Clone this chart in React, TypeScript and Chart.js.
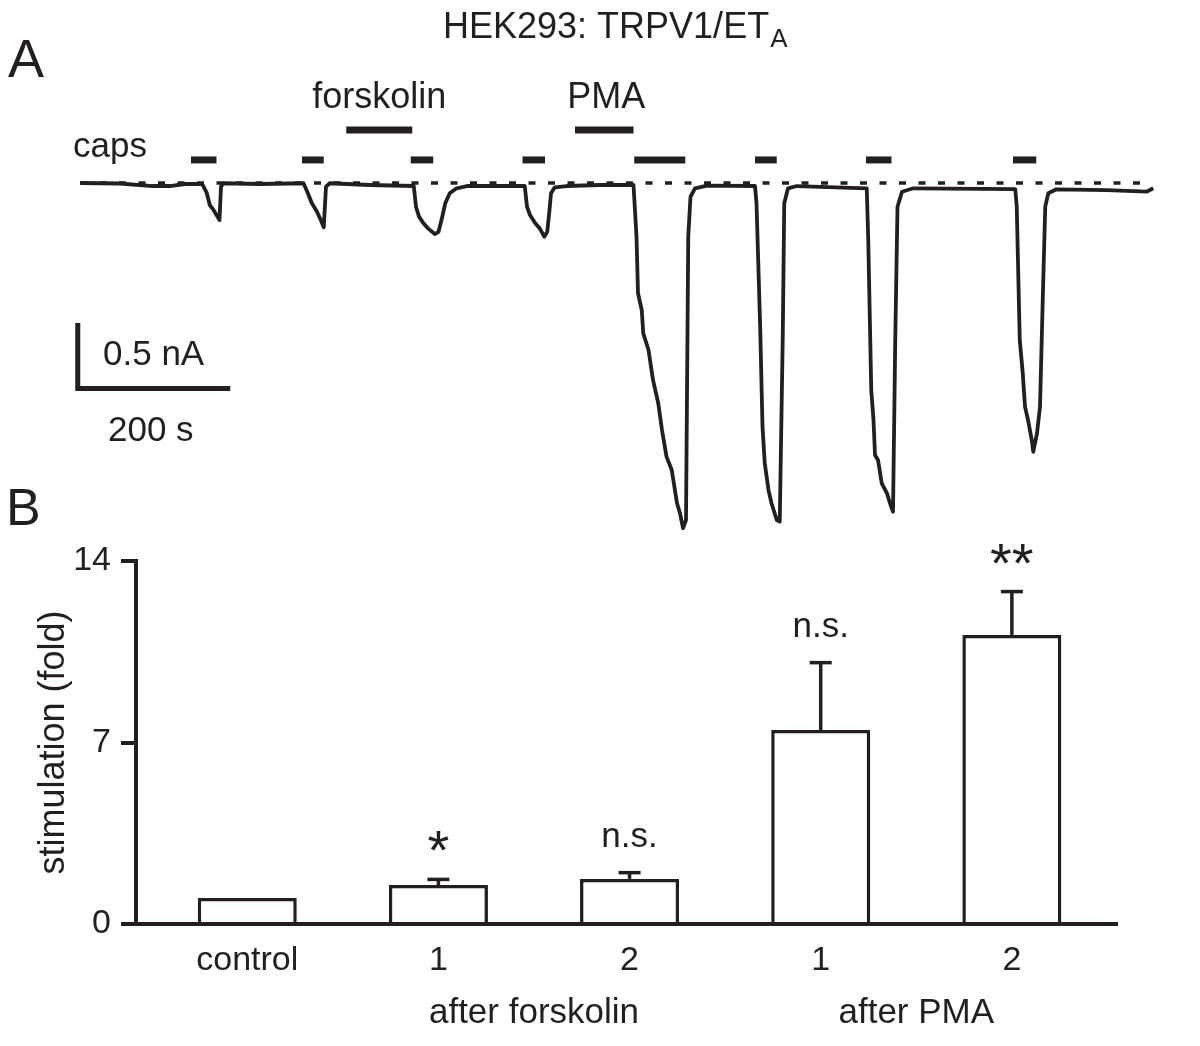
import React, { useEffect, useRef } from 'react';
import { Chart, registerables } from 'chart.js';
Chart.register(...registerables);

const FONT = "'Liberation Sans', Arial, Helvetica, sans-serif";
const INK = '#231f20';

// ---------- Panel A: current trace (time in s, current in nA) ----------
const traceTime = [
  0, 53, 97, 120, 140, 163, 169, 173, 178, 182, 186, 188, 191, 240,
  298, 303, 309, 316, 321, 325, 328, 333, 387,
  445, 448, 452, 458, 464, 473, 478, 482, 487, 493, 502, 516,
  593, 596, 600, 607, 613, 619, 623, 626, 628, 633, 649, 693,
  738, 742, 744, 749, 751, 758, 764, 771, 776, 782, 789, 796, 800, 804, 808, 811, 814, 820, 836,
  900, 902, 907, 910, 913, 918, 922, 929, 933, 937, 939, 944, 956,
  1049, 1051, 1055, 1058, 1060, 1064, 1069, 1076, 1080, 1084, 1087, 1090, 1096, 1111,
  1247, 1249, 1253, 1257, 1260, 1264, 1269, 1271, 1276, 1280, 1284, 1287, 1291, 1302, 1369, 1422, 1431,
];
const traceCurrent = [
  0, -0.004, -0.024, -0.024, -0.008, -0.008, -0.079, -0.175, -0.214, -0.254, -0.294, -0.029, -0.002, -0.008,
  -0.002, -0.069, -0.159, -0.228, -0.294, -0.352, -0.029, -0.002, -0.016,
  -0.024, -0.188, -0.267, -0.32, -0.36, -0.405, -0.387, -0.294, -0.161, -0.082, -0.042, -0.024,
  -0.024, -0.188, -0.254, -0.32, -0.36, -0.426, -0.387, -0.214, -0.082, -0.034, -0.024, -0.016,
  -0.016, -0.426, -0.875, -1.008, -1.193, -1.325, -1.563, -1.748, -1.96, -2.172, -2.278, -2.542, -2.621, -2.74, -2.675, -0.426, -0.109, -0.042, -0.021,
  -0.024, -0.161, -1.167, -1.934, -2.225, -2.437, -2.542, -2.675, -2.688, -1.22, -0.161, -0.042, -0.024,
  -0.042, -0.452, -1.643, -1.881, -2.159, -2.198, -2.383, -2.463, -2.542, -2.609, -1.246, -0.188, -0.069, -0.042,
  -0.048, -0.188, -1.246, -1.51, -1.775, -1.881, -2.04, -2.133, -1.987, -1.775, -0.849, -0.188, -0.082, -0.05, -0.056, -0.069, -0.042,
];
const baselineTime = [0, 1420];
const baselineCurrent = [0, 0];

const capsStart = [148, 296, 441, 590, 739, 900, 1048, 1244];
const capsEnd = [182, 325, 471, 620, 807, 929, 1082, 1275];
const drugNames = ['forskolin', 'PMA'];
const drugStart = [355, 660];
const drugEnd = [443, 738];

const scaleBarTime = 200; // s
const scaleBarCurrent = 0.5; // nA

// ---------- Panel B: bar chart ----------
const categories = ['control', '1', '2', '1', '2'];
const means = [1.0, 1.5, 1.74, 7.48, 11.15];
const errors = [0, 0.22, 0.24, 2.6, 1.67];
const significance = ['', '*', 'n.s.', 'n.s.', '**'];
const groupLabels = ['after forskolin', 'after PMA'];
const groupFrom = [1, 3];
const groupTo = [2, 4];
const yTicks = [0, 7, 14];

// placement constants (styles, not data)
const CAPS_LEVEL = 0.183;
const DRUG_LEVEL = 0.421;
const SCALE_T0 = -3;
const SCALE_I0 = -1.63;

function txt(ctx: CanvasRenderingContext2D, s: string, x: number, y: number, size: number, align: CanvasTextAlign = 'left') {
  ctx.font = `${size}px ${FONT}`;
  ctx.textAlign = align;
  ctx.textBaseline = 'alphabetic';
  ctx.fillStyle = INK;
  ctx.fillText(s, x, y);
}

function seg(ctx: CanvasRenderingContext2D, x0: number, y0: number, x1: number, y1: number) {
  ctx.beginPath();
  ctx.moveTo(x0, y0);
  ctx.lineTo(x1, y1);
  ctx.stroke();
}

const traceDecor = {
  id: 'traceDecor',
  afterDatasetsDraw(chart: any) {
    const { ctx, scales: { x, y } } = chart;
    ctx.save();
    ctx.strokeStyle = INK;
    ctx.lineCap = 'butt';
    ctx.lineWidth = 7;
    const yc = y.getPixelForValue(CAPS_LEVEL);
    capsStart.forEach((s, i) => seg(ctx, x.getPixelForValue(s), yc, x.getPixelForValue(capsEnd[i]), yc));
    const yd = y.getPixelForValue(DRUG_LEVEL);
    drugStart.forEach((s, i) => {
      const a = x.getPixelForValue(s);
      const b = x.getPixelForValue(drugEnd[i]);
      seg(ctx, a, yd, b, yd);
      txt(ctx, drugNames[i], (a + b) / 2 + (i === 1 ? 2 : 0), yd - 22, 36, 'center');
    });
    txt(ctx, 'caps', 73, 157, 35);

    // scale bar
    const cx = x.getPixelForValue(SCALE_T0);
    const cy = y.getPixelForValue(SCALE_I0);
    const tx = x.getPixelForValue(SCALE_T0 + scaleBarTime);
    const ty = y.getPixelForValue(SCALE_I0 + scaleBarCurrent);
    ctx.lineWidth = 5;
    ctx.lineCap = 'square';
    ctx.beginPath();
    ctx.moveTo(cx, ty);
    ctx.lineTo(cx, cy);
    ctx.lineTo(tx, cy);
    ctx.stroke();
    txt(ctx, '0.5 nA', 103, 365, 35);
    txt(ctx, '200 s', 108, 441, 35);

    // panel label and title
    txt(ctx, 'A', 8, 77, 54);
    const main = 'HEK293: TRPV1/ET';
    txt(ctx, main, 443, 38, 36);
    ctx.font = `36px ${FONT}`;
    const w = ctx.measureText(main).width;
    txt(ctx, 'A', 443 + w + 1, 47, 26);
    ctx.restore();
  },
};

const barDecor = {
  id: 'barDecor',
  afterDatasetsDraw(chart: any) {
    const { ctx, scales: { x, y } } = chart;
    ctx.save();
    ctx.strokeStyle = INK;
    ctx.lineWidth = 3.5;
    ctx.lineCap = 'butt';
    means.forEach((m, i) => {
      const cx = x.getPixelForValue(i);
      const top = y.getPixelForValue(m + errors[i]);
      if (errors[i] > 0) {
        seg(ctx, cx, y.getPixelForValue(m), cx, top);
        seg(ctx, cx - 11, top, cx + 11, top);
      }
      const lab = significance[i];
      if (!lab) return;
      if (lab.startsWith('*')) {
        ctx.font = `56px ${FONT}`;
        const mm = ctx.measureText(lab);
        const bottom = top - 28;
        txt(ctx, lab, cx, bottom - mm.actualBoundingBoxDescent, 56, 'center');
      } else {
        txt(ctx, lab, cx, top - 26, 35, 'center');
      }
    });
    groupLabels.forEach((g, i) => {
      const cx = (x.getPixelForValue(groupFrom[i]) + x.getPixelForValue(groupTo[i])) / 2;
      txt(ctx, g, cx, 1023, 35, 'center');
    });
    txt(ctx, 'B', 6, 525, 52);
    ctx.restore();
  },
};

export default function App() {
  const topRef = useRef<HTMLCanvasElement>(null);
  const botRef = useRef<HTMLCanvasElement>(null);

  useEffect(() => {
    document.body.style.margin = '0';
    const c1 = new Chart(topRef.current as HTMLCanvasElement, {
      type: 'scatter',
      data: {
        datasets: [
          {
            data: traceTime.map((t, i) => ({ x: t, y: traceCurrent[i] })),
            showLine: true,
            borderColor: INK,
            borderWidth: 3.8,
            borderJoinStyle: 'round',
            pointRadius: 0,
            tension: 0,
          },
          {
            data: baselineTime.map((t, i) => ({ x: t, y: baselineCurrent[i] })),
            showLine: true,
            borderColor: INK,
            borderWidth: 3.5,
            borderDash: [7, 12.5],
            pointRadius: 0,
          },
        ],
      } as any,
      options: {
        responsive: false,
        animation: false,
        events: [],
        layout: { padding: { left: 74, right: 46, top: 107.4, bottom: 497.6 } },
        plugins: { legend: { display: false }, tooltip: { enabled: false } },
        scales: {
          x: { type: 'linear', display: false, min: -8, max: 1432 },
          y: { type: 'linear', display: false, min: -2.9, max: 0.6 },
        },
      } as any,
      plugins: [traceDecor],
    });

    const c2 = new Chart(botRef.current as HTMLCanvasElement, {
      type: 'bar',
      data: {
        datasets: [
          {
            data: means.map((m, i) => ({ x: i, y: m })),
            backgroundColor: '#ffffff',
            borderColor: INK,
            borderWidth: 3.5,
            barPercentage: 0.518,
            categoryPercentage: 1,
          },
        ],
      } as any,
      options: {
        responsive: false,
        animation: false,
        events: [],
        layout: { padding: { left: 20, right: 83, top: 561, bottom: 0 } },
        plugins: { legend: { display: false }, tooltip: { enabled: false } },
        scales: {
          x: {
            type: 'linear',
            offset: false,
            min: -0.582,
            max: 4.55,
            grid: { display: false, drawTicks: false, offset: false },
            border: { display: true, color: INK, width: 4 },
            afterBuildTicks: (s: any) => {
              s.ticks = categories.map((_, i) => ({ value: i }));
            },
            afterFit: (s: any) => {
              s.height = 122;
            },
            ticks: {
              autoSkip: false,
              maxRotation: 0,
              minRotation: 0,
              padding: 16,
              color: INK,
              font: { family: FONT, size: 34 },
              callback: (_v: any, idx: number) => categories[idx],
            },
          },
          y: {
            type: 'linear',
            min: 0,
            max: 14,
            afterBuildTicks: (s: any) => {
              s.ticks = yTicks.map((v) => ({ value: v }));
            },
            afterFit: (s: any) => {
              s.width = 116;
            },
            grid: { drawOnChartArea: false, drawTicks: true, tickLength: 15, color: INK, lineWidth: 4 },
            border: { display: true, color: INK, width: 4 },
            ticks: { padding: 10, color: INK, font: { family: FONT, size: 34 } },
            title: {
              display: true,
              text: 'stimulation (fold)',
              color: INK,
              font: { family: FONT, size: 36 },
              padding: { top: 12, bottom: 0 },
            },
          },
        },
      } as any,
      plugins: [barDecor],
    });

    return () => {
      c1.destroy();
      c2.destroy();
    };
  }, []);

  return (
    <div style={{ position: 'absolute', left: 0, top: 0, width: 1200, height: 1046, background: '#ffffff' }}>
      <canvas ref={topRef} width={1200} height={1046} style={{ position: 'absolute', left: 0, top: 0 }} />
      <canvas ref={botRef} width={1200} height={1046} style={{ position: 'absolute', left: 0, top: 0 }} />
    </div>
  );
}
